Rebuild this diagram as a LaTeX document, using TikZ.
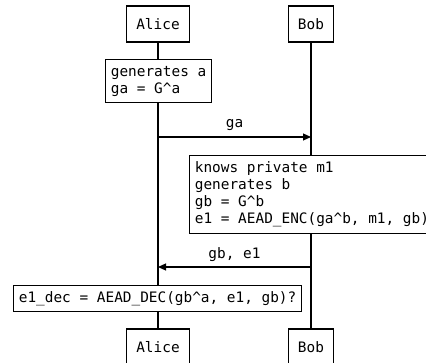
\documentclass[tikz,border=0pt]{standalone}
\usepackage{fontspec}
\setmonofont{DejaVu Sans Mono}
\usetikzlibrary{arrows.meta}

\begin{document}
\begin{tikzpicture}[x=1pt,y=-1pt,line width=1.2pt,
    every node/.style={font=\ttfamily\fontsize{14.4}{17}\selectfont},
    actor/.style={draw,fill=white,minimum height=36pt,inner xsep=9.5pt},
    note/.style={draw,fill=white,anchor=north west,align=left,inner xsep=5.3pt},
    msg/.style={-{Triangle[length=8pt,width=7pt]}}]
    \clip (0,0) rectangle (426,363);
    \node[actor] (aliceTop) at (158,24) {Alice};
    \node[actor] (bobTop) at (311,24) {Bob};
    \node[actor] (aliceBot) at (158,347) {Alice};
    \node[actor] (bobBot) at (311,347) {Bob};
    \draw (aliceTop) -- (aliceBot);
    \draw (bobTop) -- (bobBot);
    \node[note,minimum height=43pt] (genA) at (105,59) {generates a\\ga = G\^{}a};
    \coordinate (gaFrom) at (158,137);
    \coordinate (gaTo) at (311,137);
    \draw[msg] (gaFrom) -- (gaTo) node[midway,above=2pt] {ga};
    \node[note,minimum height=78pt] (genB) at (189,155) {knows private m1\\generates b\\gb = G\^{}b\\e1 = AEAD\_ENC(ga\^{}b, m1, gb)};
    \coordinate (gbFrom) at (311,267);
    \coordinate (gbTo) at (158,267);
    \draw[msg] (gbFrom) -- (gbTo) node[midway,above=1pt] {gb, e1};
    \node[note,minimum height=26pt] (decA) at (13,285) {e1\_dec = AEAD\_DEC(gb\^{}a, e1, gb)?};
\end{tikzpicture}
\end{document}
